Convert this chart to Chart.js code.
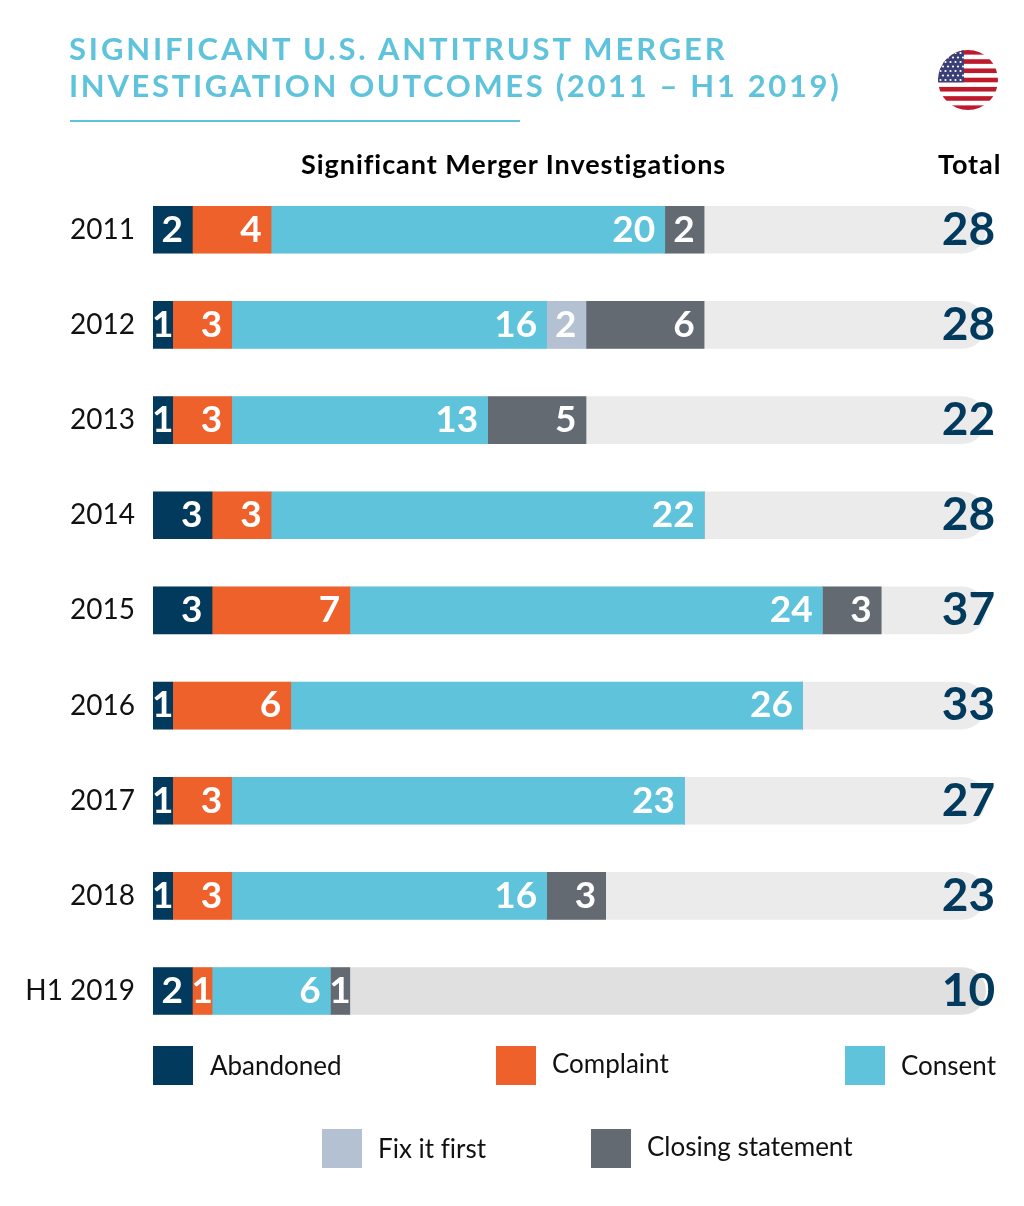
<!DOCTYPE html>
<html><head><meta charset="utf-8">
<script src="https://cdn.jsdelivr.net/npm/chart.js@4"></script>
<style>
html,body{margin:0;padding:0;background:#fff}
#wrap{position:relative;width:1024px;height:1206px;overflow:hidden;font-family:Lato,sans-serif;font-variant-ligatures:none}
canvas{position:absolute;left:0;top:0}
.t{position:absolute;white-space:nowrap;line-height:1}
.title{left:69px;color:#5fc3dc;font-weight:700;font-size:31px}
.rule{position:absolute;left:70px;top:120px;width:450px;height:2px;background:#5fc3dc}
.head{font-weight:700;font-size:27px;color:#000;letter-spacing:.95px}
.lg{position:absolute;width:40px;height:39px}
.lt{font-size:26px;color:#111;transform:translateY(-50%)}
svg{position:absolute;left:938px;top:50px}
</style></head><body>
<div id="wrap">
<canvas id="c" width="1024" height="1206"></canvas>
<div class="t title" style="top:33px;letter-spacing:2.86px">SIGNIFICANT U.S. ANTITRUST MERGER</div>
<div class="t title" style="top:70px;letter-spacing:2.65px">INVESTIGATION OUTCOMES (2011 – H1 2019)</div>
<div class="rule"></div>
<div class="t head" style="left:301px;top:150px">Significant Merger Investigations</div>
<div class="t head" style="left:938px;top:150px">Total</div>
<svg id="flag" width="60" height="60" viewBox="0 0 60 60"></svg>
</div>
<script>
const years = ["2011","2012","2013","2014","2015","2016","2017","2018","H1 2019"];
const abandoned = [2,1,1,3,3,1,1,1,2];
const complaint = [4,3,3,3,7,6,3,3,1];
const consent   = [20,16,13,22,24,26,23,16,6];
const fixItFirst = [0,2,0,0,0,0,0,0,0];
const closing   = [2,6,5,0,3,0,0,3,1];
const totals    = [28,28,22,28,37,33,27,23,10];
const trackLength = [42.3,42.3,42.3,42.3,42.3,42.3,42.3,42.3,42.3];
const trackColors = ["#ebebeb","#ebebeb","#ebebeb","#ebebeb","#ebebeb","#ebebeb","#ebebeb","#ebebeb","#e0e0e0"];
const seriesNames = ["Abandoned","Complaint","Consent","Fix it first","Closing statement"];
const seriesColors = ["#023a5e","#ef612b","#5fc3dc","#b3c1d3","#636a72"];
const seriesValues = [abandoned,complaint,consent,fixItFirst,closing];
const legendPlaces = [[153,1046,210,1065],[496,1046,552,1063],[845,1046,901,1065],[322,1129,378,1148],[591,1129,647,1146]];

const wrap = document.getElementById('wrap');
seriesNames.forEach((n,i)=>{
  const p = legendPlaces[i];
  const s = document.createElement('div'); s.className='lg';
  s.style.cssText = `left:${p[0]}px;top:${p[1]}px;background:${seriesColors[i]}`;
  wrap.appendChild(s);
  const t = document.createElement('div'); t.className='t lt'; t.textContent=n;
  t.style.left=p[2]+'px'; t.style.top=p[3]+'px';
  wrap.appendChild(t);
});

// flag
(function(){
  const svg=document.getElementById('flag');
  let h='<defs><clipPath id="cp"><circle cx="30" cy="30" r="30"/></clipPath></defs><g clip-path="url(#cp)"><rect width="60" height="60" fill="#fff"/>';
  for(let i=0;i<13;i+=2) h+=`<rect x="0" y="${i*60/13}" width="60" height="${60/13}" fill="#bd1a2e"/>`;
  h+='<rect x="0" y="0" width="26" height="32.3" fill="#3a3f78"/>';
  for(let r=0;r<7;r++) for(let c=0;c<5;c++){
    h+=`<circle cx="${2.5+c*5+(r%2?2.5:0)}" cy="${3+r*4.5}" r="1.1" fill="#fff"/>`;
  }
  svg.innerHTML=h+'</g>';
})();

const labelPlugin = {
  id:'labels',
  afterDatasetsDraw(chart){
    const ctx=chart.ctx;
    ctx.save();
    ctx.textBaseline='middle';
    chart.data.datasets.forEach((ds,di)=>{
      if(ds.stack!=='parts') return;
      const meta=chart.getDatasetMeta(di);
      meta.data.forEach((bar,i)=>{
        const v=ds.data[i];
        if(!v) return;
        ctx.fillStyle='#fff';
        ctx.font='700 37px Lato, sans-serif';
        if(v===1){ctx.textAlign='center';ctx.fillText(String(v),(bar.x+bar.base)/2,bar.y);}
        else{ctx.textAlign='right';ctx.fillText(String(v),bar.x-9.5,bar.y);}
      });
    });
    const ys=chart.scales.y;
    ctx.fillStyle='#023a5e';
    ctx.font='700 46px Lato, sans-serif';
    ctx.textAlign='center';
    totals.forEach((t,i)=>ctx.fillText(String(t),968.5,ys.getPixelForValue(i)));
    ctx.restore();
  }
};

const datasets = [{
  label:'Track',stack:'track',order:10,data:trackLength,backgroundColor:trackColors,
  borderRadius:{topLeft:0,bottomLeft:0,topRight:24,bottomRight:24},borderSkipped:false
}].concat(seriesNames.map((n,i)=>({
  label:n,stack:'parts',order:1,data:seriesValues[i],backgroundColor:seriesColors[i]
})));

new Chart(document.getElementById('c'),{
  type:'bar',
  data:{labels:years,datasets},
  options:{
    indexAxis:'y',responsive:false,animation:false,
    grouped:false,barThickness:47,
    layout:{padding:{top:182.2,bottom:167.4,left:0,right:5}},
    plugins:{legend:{display:false},tooltip:{enabled:false},title:{display:false}},
    scales:{
      x:{stacked:true,min:0,max:44,display:false},
      y:{stacked:true,
        border:{display:false},grid:{display:false,drawTicks:false},
        afterFit(s){s.width=153;},
        ticks:{color:'#111',padding:18,font:{family:'Lato, sans-serif',size:28},autoSkip:false}}
    }
  },
  plugins:[labelPlugin]
});
</script>
</body></html>
